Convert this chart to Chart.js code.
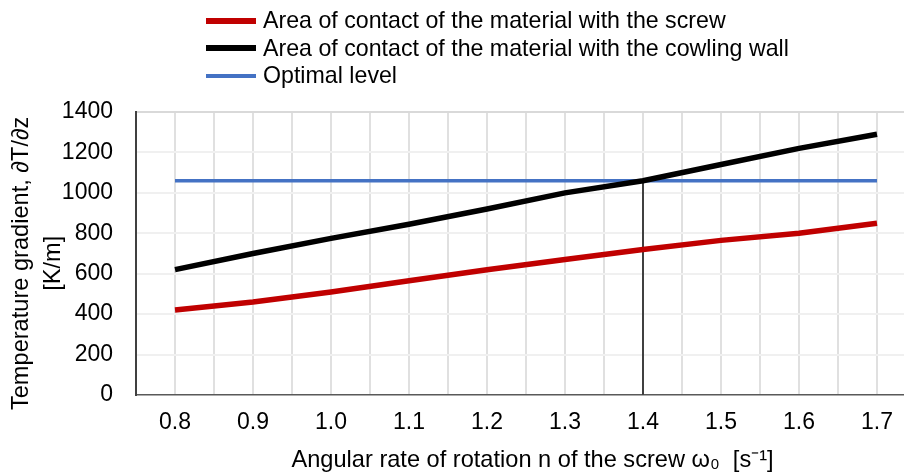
<!DOCTYPE html>
<html>
<head>
<meta charset="utf-8">
<script src="https://cdn.jsdelivr.net/npm/chart.js@4"></script>
<style>
    html, body { margin: 0; padding: 0; overflow: hidden; background: #fff; }
    #wrap { position: relative; width: 930px; height: 472px; }
    #legend { position: absolute; left: 206px; top: 7px; font-family: "Liberation Sans", Arial, sans-serif; font-size: 23.2px; color: #000; }
    #legend .item { display: flex; align-items: center; height: 27.5px; white-space: nowrap; }
    #legend .swatch { display: inline-block; width: 50px; margin-right: 7px; }
</style>
</head>
<body>
<div id="wrap">
    <canvas id="chart" width="930" height="472"></canvas>
    <div id="legend"></div>
</div>
<script>
// values
const rotationRate = [0.8, 0.9, 1.0, 1.1, 1.2, 1.3, 1.4, 1.5, 1.6, 1.7];
const screwContact = [420, 460, 510, 565, 620, 670, 720, 765, 800, 850];
const wallContact = [620, 700, 775, 845, 920, 1000, 1060, 1140, 1220, 1290];
const optimalX = [0.8, 1.7];
const optimalY = [1060, 1060];
const markerX = [1.4, 1.4];
const markerY = [0, 1060];

const seriesNames = [
    'Area of contact of the material with the screw',
    'Area of contact of the material with the cowling wall',
    'Optimal level'
];
// extra spaces nudge the titles a few px, as in the picture
const yTitle = ['Temperature gradient, \u2202T/\u2202z   ', '[K/m]   '];
const xTitle = '  Angular rate of rotation n of the screw \u03C9\u2080  [s\u207B\u00B9]';

const FONT = '"Liberation Sans", Arial, sans-serif';

function points(xs, ys) {
    return xs.map((x, i) => ({x: x, y: ys[i]}));
}

function main() {
    const element = document.getElementById('chart');

    const chart = new Chart(element, {
        type: 'line',
        data: {
            datasets: [{
                label: seriesNames[0],
                data: points(rotationRate, screwContact),
                borderColor: '#c00000',
                backgroundColor: '#c00000',
                borderWidth: 5.5,
                pointRadius: 0,
                tension: 0
            }, {
                label: seriesNames[1],
                data: points(rotationRate, wallContact),
                borderColor: '#000000',
                backgroundColor: '#000000',
                borderWidth: 5.5,
                pointRadius: 0,
                tension: 0
            }, {
                label: seriesNames[2],
                data: points(optimalX, optimalY),
                borderColor: '#4472c4',
                backgroundColor: '#4472c4',
                borderWidth: 3.5,
                pointRadius: 0,
                tension: 0
            }, {
                label: 'marker',
                data: points(markerX, markerY),
                borderColor: '#404040',
                borderWidth: 2,
                pointRadius: 0,
                hideInLegend: true
            }]
        },
        options: {
            responsive: false,
            animation: false,
            layout: {
                padding: {top: 112, left: 0, right: 4, bottom: 0}
            },
            plugins: {
                legend: {display: false},
                tooltip: {enabled: false}
            },
            scales: {
                x: {
                    type: 'linear',
                    min: 0.75,
                    max: 1.75,
                    afterFit: (scale) => { scale.height = 77; },
                    ticks: {
                        stepSize: 0.05,
                        autoSkip: false,
                        maxRotation: 0,
                        padding: 14,
                        color: '#000',
                        font: {family: FONT, size: 23},
                        callback: (v) => {
                            let n = Math.round(v * 20);
                            if (n % 2 !== 0 || v < 0.79 || v > 1.71) return '';
                            return (n / 20).toFixed(1);
                        }
                    },
                    grid: {
                        drawTicks: false,
                        lineWidth: 2,
                        color: (c) => Math.abs(c.tick.value - 0.75) < 0.001 ? 'rgba(0,0,0,0)' : '#e0e0e0'
                    },
                    border: {color: '#595959', width: 1.5},
                    title: {
                        display: true,
                        text: xTitle,
                        color: '#000',
                        font: {family: FONT, size: 23.6, lineHeight: 1},
                        padding: {top: 0, bottom: 0}
                    }
                },
                y: {
                    min: 0,
                    max: 1400,
                    afterFit: (scale) => { scale.width = 136; },
                    ticks: {
                        stepSize: 200,
                        padding: 23,
                        color: '#000',
                        font: {family: FONT, size: 23},
                        callback: (v) => String(v)
                    },
                    grid: {
                        drawTicks: false,
                        lineWidth: 2,
                        color: (c) => {
                            if (c.tick.value === 0) return 'rgba(0,0,0,0)';
                            if (c.tick.value === 1400) return '#d9d9d9';
                            return '#f0f0f0';
                        }
                    },
                    border: {color: '#404040', width: 2},
                    title: {
                        display: true,
                        text: yTitle,
                        color: '#000',
                        font: {family: FONT, size: 23.6, lineHeight: 1.36},
                        padding: {top: 5, bottom: 0}
                    }
                }
            }
        }
    });

    // legend as html, one series per row
    let html = '';
    chart.data.datasets.forEach(ds => {
        if (ds.hideInLegend) return;
        html += `<div class="item"><span class="swatch" style="height:${Math.round(ds.borderWidth)}px;background:${ds.borderColor}"></span>${ds.label}</div>`;
    });
    document.getElementById('legend').innerHTML = html;
}

main();
</script>
</body>
</html>
